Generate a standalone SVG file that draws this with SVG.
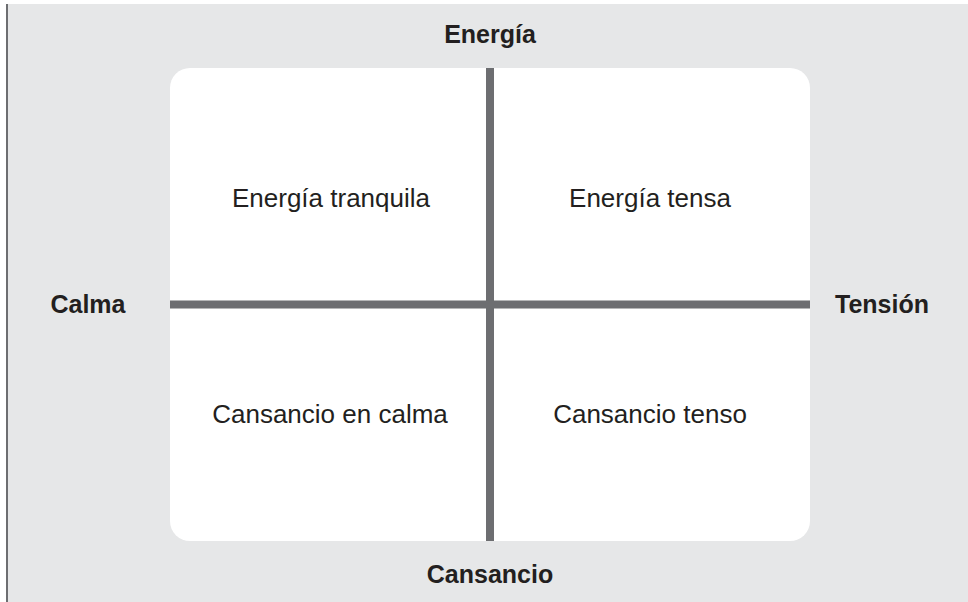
<svg xmlns="http://www.w3.org/2000/svg" width="968" height="602" viewBox="0 0 968 602">
  <style>
    .axis { font-family: "Liberation Sans", Arial, sans-serif; font-weight: bold; font-size: 25px; fill: #231f20; text-anchor: middle; }
    .quad { font-family: "Liberation Sans", Arial, sans-serif; font-size: 26px; fill: #231f20; text-anchor: middle; }
    .line { stroke: #6d6e71; stroke-width: 8; fill: none; }
  </style>
  <rect x="0" y="0" width="968" height="602" fill="#ffffff"/>
  <rect x="8" y="4" width="960" height="598" fill="#e6e7e8"/>
  <line x1="7" y1="4" x2="7" y2="602" stroke="#6d6e71" stroke-width="2"/>
  <g id="panel">
    <rect x="170" y="68" width="640" height="473" rx="20" ry="20" fill="#ffffff"/>
  </g>
  <g id="connectors">
    <line class="line" x1="490" y1="68" x2="490" y2="541"/>
    <line class="line" x1="170" y1="304.5" x2="810" y2="304.5"/>
  </g>
  <g id="axis-top"><text class="axis" x="490" y="43">Energía</text></g>
  <g id="axis-bottom"><text class="axis" x="490" y="583">Cansancio</text></g>
  <g id="axis-left"><text class="axis" x="88" y="313">Calma</text></g>
  <g id="axis-right"><text class="axis" x="882" y="313">Tensión</text></g>
  <g id="q-tl"><text class="quad" x="331" y="207">Energía tranquila</text></g>
  <g id="q-tr"><text class="quad" x="650" y="207">Energía tensa</text></g>
  <g id="q-bl"><text class="quad" x="330" y="423">Cansancio en calma</text></g>
  <g id="q-br"><text class="quad" x="650" y="423">Cansancio tenso</text></g>
</svg>
